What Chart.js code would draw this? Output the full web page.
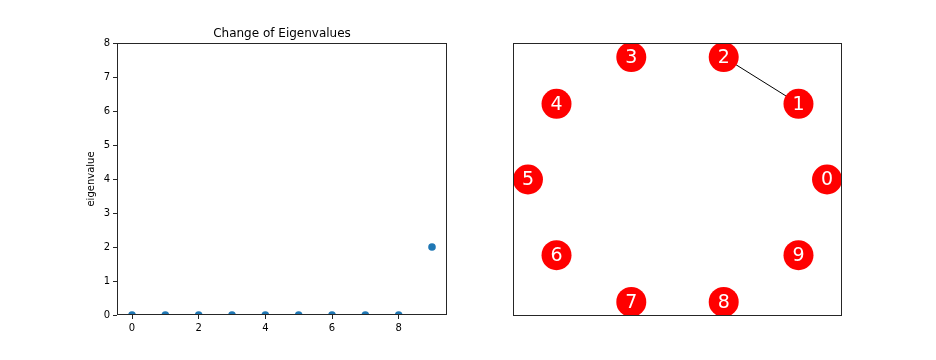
<!DOCTYPE html>
<html>
<head>
<meta charset="utf-8">
<script src="https://cdn.jsdelivr.net/npm/chart.js@4"></script>
<style>
  html, body { margin:0; padding:0; background:#fff; }
  #wrap { position:relative; width:936px; height:360px; }
  canvas { position:absolute; top:0; }
</style>
</head>
<body>
<div id="wrap">
  <canvas id="left" width="468" height="360" style="left:0"></canvas>
  <canvas id="right" width="468" height="360" style="left:468px"></canvas>
</div>
<script>
// ---- data ----
const eigIndex = [0, 1, 2, 3, 4, 5, 6, 7, 8, 9];
const eigValues = [0, 0, 0, 0, 0, 0, 0, 0, 0, 2];
const xTicks = [0, 2, 4, 6, 8];
const yTicks = [0, 1, 2, 3, 4, 5, 6, 7, 8];
const chartTitle = 'Change of Eigenvalues';
const yLabel = 'eigenvalue';

const nodeLabels = ['0', '1', '2', '3', '4', '5', '6', '7', '8', '9'];
const nodeX = [1.0, 0.809, 0.309, -0.309, -0.809, -1.0, -0.809, -0.309, 0.309, 0.809];
const nodeY = [0.0, 0.588, 0.951, 0.951, 0.588, 0.0, -0.588, -0.951, -0.951, -0.588];
const edges = [[1, 2]];

Chart.defaults.font.family = 'DejaVu Sans';
Chart.defaults.color = '#000';

const framePlugin = {
  id: 'frame',
  afterDraw(chart) {
    const a = chart.chartArea, ctx = chart.ctx;
    ctx.save();
    ctx.strokeStyle = '#262626';
    ctx.lineWidth = 1;
    ctx.strokeRect(Math.round(a.left) + 0.5, Math.round(a.top) + 0.5,
                   Math.round(a.right - a.left) - 1, Math.round(a.bottom - a.top) - 1);
    ctx.restore();
  }
};

const titlePlugin = {
  id: 'mytitle',
  afterDraw(chart) {
    const a = chart.chartArea, ctx = chart.ctx;
    ctx.save();
    ctx.fillStyle = '#000';
    ctx.font = '12px "DejaVu Sans"';
    ctx.textAlign = 'center';
    ctx.textBaseline = 'alphabetic';
    ctx.fillText(chartTitle, (a.left + a.right) / 2, 37);
    ctx.restore();
  }
};

new Chart(document.getElementById('left'), {
  type: 'scatter',
  data: {
    datasets: [{
      data: eigIndex.map((x, i) => ({ x: x, y: eigValues[i] })),
      backgroundColor: '#1f77b4',
      borderWidth: 0,
      pointRadius: 3.8,
      pointHoverRadius: 3.8
    }]
  },
  options: {
    responsive: false,
    animation: false,
    events: [],
    layout: { padding: { left: 85, top: 43, right: 21, bottom: 0 } },
    plugins: { legend: { display: false }, tooltip: { enabled: false } },
    scales: {
      x: {
        type: 'linear',
        min: -0.45, max: 9.45,
        afterBuildTicks(s) { s.ticks = xTicks.map(v => ({ value: v })); },
        afterFit(s) { s.height = 45; },
        grid: { drawOnChartArea: false, drawTicks: true, tickLength: 4, color: '#262626' },
        border: { display: false },
        ticks: { font: { size: 10 }, padding: 3, maxRotation: 0, autoSkip: false }
      },
      y: {
        type: 'linear',
        min: 0, max: 8,
        afterBuildTicks(s) { s.ticks = yTicks.map(v => ({ value: v })); },
        afterFit(s) { s.width = 32; },
        grid: { drawOnChartArea: false, drawTicks: true, tickLength: 4, color: '#262626' },
        border: { display: false },
        ticks: { font: { size: 10 }, padding: 3, autoSkip: false },
        title: { display: true, text: yLabel, font: { size: 10 }, padding: { top: 0, bottom: 0 } }
      }
    }
  },
  plugins: [framePlugin, titlePlugin]
});

const labelPlugin = {
  id: 'nodelabels',
  afterDatasetsDraw(chart) {
    const meta = chart.getDatasetMeta(0);
    const ctx = chart.ctx;
    ctx.save();
    ctx.fillStyle = '#fff';
    ctx.font = '19px "DejaVu Sans"';
    ctx.textAlign = 'center';
    ctx.textBaseline = 'middle';
    meta.data.forEach((el, i) => {
      ctx.fillText(nodeLabels[i], el.x, el.y + 1);
    });
    ctx.restore();
  }
};

const edgeSets = edges.map(e => ({
  type: 'line',
  data: e.map(n => ({ x: nodeX[n], y: nodeY[n] })),
  borderColor: '#000',
  borderWidth: 1,
  pointRadius: 0,
  showLine: true,
  fill: false,
  order: 1
}));

new Chart(document.getElementById('right'), {
  type: 'scatter',
  data: {
    datasets: [{
      data: nodeX.map((x, i) => ({ x: x, y: nodeY[i] })),
      backgroundColor: '#ff0000',
      borderWidth: 0,
      pointRadius: 15,
      pointHoverRadius: 15,
      order: 0
    }].concat(edgeSets)
  },
  options: {
    responsive: false,
    animation: false,
    events: [],
    layout: { padding: { left: 45, top: 43, right: 94, bottom: 44 } },
    plugins: { legend: { display: false }, tooltip: { enabled: false } },
    scales: {
      x: { type: 'linear', min: -1.1, max: 1.1, display: false },
      y: { type: 'linear', min: -1.06, max: 1.06, display: false }
    }
  },
  plugins: [framePlugin, labelPlugin]
});
</script>
</body>
</html>
